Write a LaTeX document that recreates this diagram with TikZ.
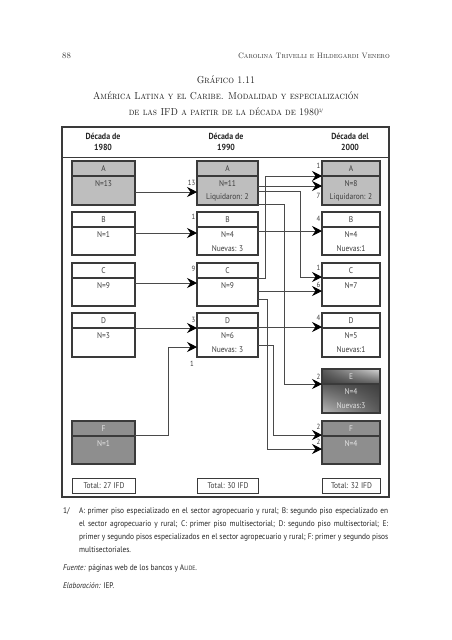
\documentclass[tikz,border=0pt]{standalone}
\usepackage{fontspec}
\newfontfamily\dsf[FakeStretch=0.9]{PT Sans}
\usetikzlibrary{arrows.meta,shadings}
\definecolor{ln}{HTML}{4A4A4A}
\definecolor{bx}{HTML}{3A3A3A}
\definecolor{boxA}{HTML}{BEBEBE}
\definecolor{boxF}{HTML}{8E8E8E}
\definecolor{txt}{HTML}{3C3C3C}
\definecolor{Ea}{HTML}{3E3E3E}
\definecolor{Eb}{HTML}{5A5A5A}
\definecolor{Ec}{HTML}{B8B8B8}
\definecolor{Ed}{HTML}{D8D8D8}
\newcommand\mkbox[9]{%
  \node[boxst,#6,minimum width={#3-#2},minimum height={#5-#4},anchor=north west] (#1) at (#2,#4) {};
  \draw[boxst] ([yshift=-15pt]#1.north west) -- ([yshift=-15pt]#1.north east);
  \node[#6t,boxtxt] (#1-l) at ([yshift=-7.5pt]#1.north) {#7};
  \node[#6t,boxtxt] (#1-a) at ([yshift=-22.5pt]#1.north) {#8};
  \node[#6t,boxtxt] (#1-b) at ([yshift=-36.5pt]#1.north) {#9};
}
\tikzset{
  boxst/.style={draw=bx,line width=1.1pt,inner sep=0,outer sep=0},
  boxtxt/.style={font=\dsf\fontsize{8.3}{9}\selectfont,inner sep=0},
  kW/.style={fill=white}, kWt/.style={text=txt},
  kA/.style={fill=boxA}, kAt/.style={text=txt},
  kF/.style={fill=boxF}, kFt/.style={text=white!90!black},
  kE/.style={}, kEt/.style={text=white!88!black},
  arr/.style={draw=ln,line width=0.9pt,-{Stealth[length=10pt,width=10pt,inset=3.5pt,color=black]}},
  lbl/.style={font=\dsf\fontsize{7.5}{8}\selectfont,text=txt,inner sep=0},
  hdr/.style={font=\dsf\bfseries\fontsize{8.8}{11.5}\selectfont,align=center,text=black!85},
  tot/.style={draw=bx,line width=1pt,inner sep=0,minimum height=15pt,font=\dsf\fontsize{8.3}{9}\selectfont,text=txt},
  fn/.style={font=\dsf\fontsize{8.2}{10}\selectfont,text=black!85,inner sep=0,anchor=base west},
  ttl/.style={font=\fontsize{10.1}{12}\selectfont,text=black!90,inner sep=0,xscale=0.89}
}
\begin{document}
\begin{tikzpicture}[x=1pt,y=-1pt]
\fill[white] (0,0) rectangle (452,640);
\useasboundingbox (0,0) rectangle (452,640);
% page header
\node[inner sep=0,anchor=base west,font=\fontsize{8.5}{10}\selectfont,text=black!80] (pg) at (62,58) {88};
\node[inner sep=0,anchor=base east,font=\fontsize{7.8}{10}\selectfont,text=black!80,xscale=0.96] (rh) at (390,58) {\textsc{Carolina Trivelli e Hildegardi Venero}};
% title
\node[ttl] (t1) at (226,80) {\textsc{Gráfico 1.11}};
\node[ttl] (t2) at (226,96) {\textsc{América Latina y el Caribe. Modalidad y especialización}};
\node[ttl] (t3) at (226,112) {\textsc{de las IFD a partir de la década de 1980}\textsuperscript{\dsf\fontsize{5}{5}\selectfont 1/}};
% frame
\draw[draw=bx,line width=1.3pt] (62,127) rectangle (389,497);
\draw[draw=bx,line width=1pt] (62,157) -- (389,157);
\node[hdr] (h1) at (103,142) {Década de\\1980};
\node[hdr] (h2) at (226,142) {Década de\\1990};
\node[hdr] (h3) at (350,142) {Década del\\2000};
% E shading
\shade[upper left=Eb,upper right=Ed,lower left=Ea,lower right=Eb] (322,369) rectangle (380,384);
\shade[upper left=Eb,upper right=Ea,lower left=Ec,lower right=Eb] (322,384) rectangle (380,413);
% boxes
\mkbox{LA}{72}{135}{161}{205}{kA}{A}{N=13}{}
\mkbox{LB}{72}{135}{212}{255}{kW}{B}{N=1}{}
\mkbox{LC}{72}{135}{263}{306}{kW}{C}{N=9}{}
\mkbox{LD}{72}{135}{313}{357}{kW}{D}{N=3}{}
\mkbox{LF}{72}{135}{421}{464}{kF}{F}{N=1}{}
\mkbox{MA}{197}{258}{161}{205}{kA}{A}{N=11}{Liquidaron: 2}
\mkbox{MB}{197}{258}{212}{255}{kW}{B}{N=4}{Nuevas: 3}
\mkbox{MC}{197}{258}{263}{306}{kW}{C}{N=9}{}
\mkbox{MD}{197}{258}{313}{357}{kW}{D}{N=6}{Nuevas: 3}
\mkbox{RA}{322}{380}{161}{205}{kA}{A}{N=8}{Liquidaron: 2}
\mkbox{RB}{322}{380}{212}{255}{kW}{B}{N=4}{Nuevas:1}
\mkbox{RC}{322}{380}{263}{306}{kW}{C}{N=7}{}
\mkbox{RD}{322}{380}{313}{357}{kW}{D}{N=5}{Nuevas:1}
\mkbox{RE}{322}{380}{369}{413}{kE}{E}{N=4}{Nuevas:3}
\mkbox{RF}{322}{380}{421}{464}{kF}{F}{N=4}{}
% totals
\node[tot,minimum width=63pt,anchor=north west] (TL) at (72,478) {Total: 27 IFD};
\node[tot,minimum width=61pt,anchor=north west] (TM) at (197,478) {Total: 30 IFD};
\node[tot,minimum width=58pt,anchor=north west] (TR) at (322,478) {Total: 32 IFD};
% connectors
\draw[arr] (LA.east |- 0,192) -- (MA.west |- 0,192);
\draw[arr] (LB.east |- 0,233) -- (MB.west |- 0,233);
\draw[arr] (LC.east |- 0,283) -- (MC.west |- 0,283);
\draw[arr] (LD.east |- 0,328) -- (MD.west |- 0,328);
\draw[arr] (LF.east |- 0,435) -| (168,347) -- (MD.west |- 0,347);
\draw[arr] (MC.east |- 0,278) -| (265,176) -- (RA.west |- 0,176);
\draw[arr] (MA.east |- 0,186) -- (RA.west |- 0,186);
\draw[arr] (MA.east |- 0,191) -| (300,277) -- (RC.west |- 0,277);
\draw[arr] (MA.east |- 0,204) -| (284,384) -- (RE.west |- 0,384);
\draw[arr] (MB.east |- 0,231) -- (RB.west |- 0,231);
\draw[arr] (MC.east |- 0,291) -- (RC.west |- 0,291);
\draw[arr] (MC.east |- 0,299) -| (267,449) -- (RF.west |- 0,449);
\draw[arr] (MD.east |- 0,327) -- (RD.west |- 0,327);
\draw[arr] (MD.east |- 0,345) -| (273,435) -- (RF.west |- 0,435);
% labels
\node[lbl,anchor=east] (n1) at (195.5,183) {13};
\node[lbl,anchor=east] (n2) at (195.5,217) {1};
\node[lbl,anchor=east] (n3) at (195.5,269) {9};
\node[lbl,anchor=east] (n4) at (195.5,320) {3};
\node[lbl] (n5) at (192,364) {1};
\node[lbl,anchor=east] (n6) at (320.5,166) {1};
\node[lbl,anchor=east] (n7) at (320.5,196) {7};
\node[lbl,anchor=east] (n8) at (320.5,219) {4};
\node[lbl,anchor=east] (n9) at (320.5,268) {1};
\node[lbl,anchor=east] (n10) at (320.5,285) {6};
\node[lbl,anchor=east] (n11) at (320.5,318) {4};
\node[lbl,anchor=east] (n12) at (320.5,377) {2};
\node[lbl,anchor=east] (n13) at (320.5,427) {2};
\node[lbl,anchor=east] (n14) at (320.5,442) {2};
% footnote
\node[fn] (f0) at (63,513) {1/};
\node[fn] (f1) at (79,513) {\hbox to 309pt{A: primer piso especializado en el sector agropecuario y rural; B: segundo piso especializado en}};
\node[fn] (f2) at (79,526) {\hbox to 309pt{el sector agropecuario y rural; C: primer piso multisectorial; D: segundo piso multisectorial; E:}};
\node[fn] (f3) at (79,539) {\hbox to 309pt{primer y segundo pisos especializados en el sector agropecuario y rural; F: primer y segundo pisos}};
\node[fn] (f4) at (79,552) {multisectoriales.};
\node[fn] (f5) at (63,570) {\textit{Fuente:} páginas web de los bancos y A{\fontsize{6.2}{7}\selectfont LIDE}.};
\node[fn] (f6) at (63,588) {\textit{Elaboración:} IEP.};
\end{tikzpicture}
\end{document}
